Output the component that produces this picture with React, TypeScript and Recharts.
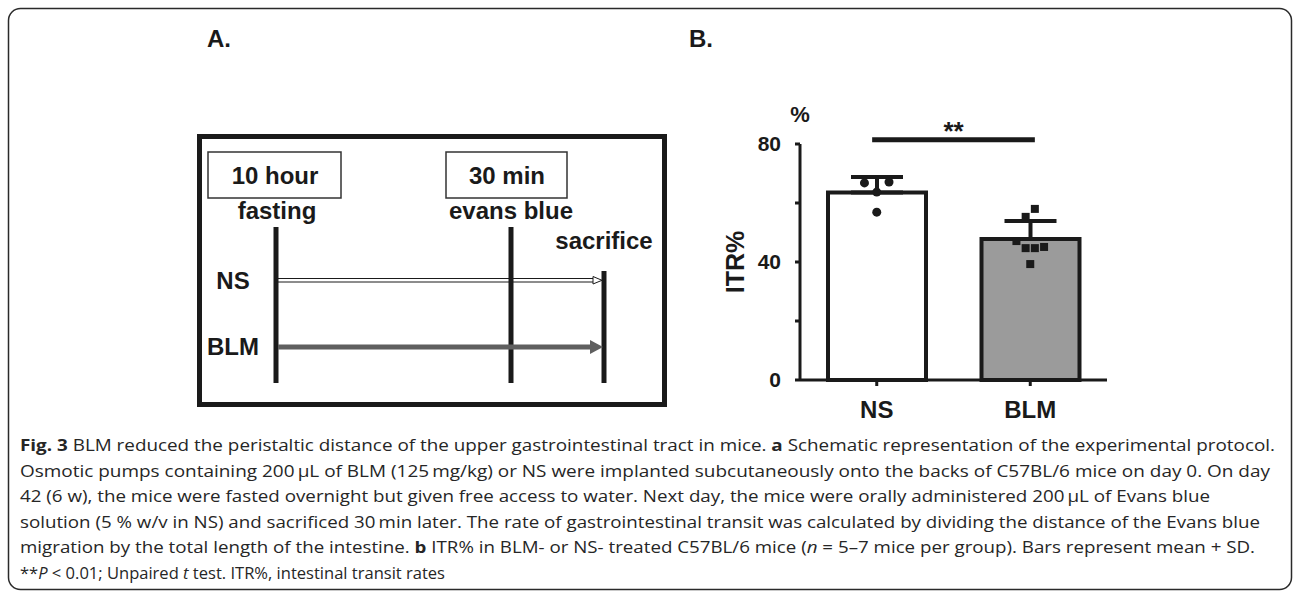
import React from 'react';
import { ComposedChart, Bar, Cell, ErrorBar, Scatter, XAxis, YAxis, ReferenceLine, Label } from 'recharts';

// panel B values
const GROUPS = ['NS', 'BLM'];
const MEANS = [63.6, 47.8];
const SDS = [5.2, 6.1];
const BAR_FILLS = ['#ffffff', '#9b9b9b'];
const NS_POINTS = [66.8, 67.1, 63.7, 56.9];
const NS_JITTER = [-0.08, 0.08, 0, 0];
const BLM_POINTS = [58.0, 55.3, 47.1, 44.7, 44.7, 45.1, 39.3];
const BLM_JITTER = [0.03, -0.03, -0.09, -0.03, 0.03, 0.09, 0];
const Y_TICKS = [0, 20, 40, 60, 80];
const Y_LABELS = [0, 40, 80];
const SIG_Y = 81.4;
const SIG_SPAN = [0.47, 1.53];

// panel A schematic texts
const STEP_BOXES = ['10 hour', '30 min'];
const STEP_NAMES = ['fasting', 'evans blue', 'sacrifice'];
const ROWS = ['NS', 'BLM'];

// caption lines, [text, style] pieces
const CAPTION: [string, string][][] = [
  [['Fig. 3', 'b'], [' BLM reduced the peristaltic distance of the upper gastrointestinal tract in mice. ', ''], ['a', 'b'], [' Schematic representation of the experimental protocol.', '']],
  [['Osmotic pumps containing 200\u2009\u00b5L of BLM (125\u2009mg/kg) or NS were implanted subcutaneously onto the backs of C57BL/6 mice on day 0. On day', '']],
  [['42 (6 w), the mice were fasted overnight but given free access to water. Next day, the mice were orally administered 200\u2009\u00b5L of Evans blue', '']],
  [['solution (5 % w/v in NS) and sacrificed 30\u2009min later. The rate of gastrointestinal transit was calculated by dividing the distance of the Evans blue', '']],
  [['migration by the total length of the intestine. ', ''], ['b', 'b'], [' ITR% in BLM- or NS- treated C57BL/6 mice (', ''], ['n', 'i'], [' = 5\u20137 mice per group). Bars represent mean + SD.', '']],
  [['**', ''], ['P', 'i'], [' < 0.01; Unpaired ', ''], ['t', 'i'], [' test. ITR%, intestinal transit rates', '']],
];
const CAPTION_WIDTHS = [1255, 1250, 1190, 1240, 1235, 425];

const INK = '#1a1a1a';
const FONT = '"Liberation Sans", Arial, sans-serif';

const barData = GROUPS.map((name, i) => ({ name, mean: MEANS[i], err: [0, SDS[i]] }));
const nsDots = NS_POINTS.map((y, i) => ({ x: 0.5 + NS_JITTER[i], y }));
const blmDots = BLM_POINTS.map((y, i) => ({ x: 1.5 + BLM_JITTER[i], y }));

const Dot = (p: any) => <circle cx={p.cx} cy={p.cy} r={4.5} fill={INK} />;
const Sq = (p: any) => <rect x={p.cx - 4} y={p.cy - 4} width={8} height={8} fill={INK} />;

function Schematic() {
  const b = { fontFamily: FONT, fontWeight: 700, fontSize: 24, fill: INK } as const;
  return (
    <g>
      <rect x={199.5} y={136.5} width={465} height={268} fill="none" stroke={INK} strokeWidth={5} />
      <rect x={208} y={152} width={133} height={46} fill="none" stroke="#333" strokeWidth={1.5} />
      <rect x={446} y={152} width={121} height={46} fill="none" stroke="#333" strokeWidth={1.5} />
      <text x={275} y={184} textAnchor="middle" {...b}>{STEP_BOXES[0]}</text>
      <text x={507} y={184} textAnchor="middle" {...b}>{STEP_BOXES[1]}</text>
      <text x={277} y={219} textAnchor="middle" {...b}>{STEP_NAMES[0]}</text>
      <text x={511} y={219} textAnchor="middle" {...b}>{STEP_NAMES[1]}</text>
      <text x={604} y={249} textAnchor="middle" {...b}>{STEP_NAMES[2]}</text>
      <text x={233} y={289} textAnchor="middle" {...b}>{ROWS[0]}</text>
      <text x={233} y={355} textAnchor="middle" {...b}>{ROWS[1]}</text>
      <line x1={276} y1={227} x2={276} y2={383} stroke={INK} strokeWidth={5} />
      <line x1={511} y1={227} x2={511} y2={383} stroke={INK} strokeWidth={5} />
      <line x1={604} y1={271} x2={604} y2={383} stroke={INK} strokeWidth={5} />
      {/* NS: hollow arrow */}
      <line x1={278} y1={278.5} x2={594} y2={278.5} stroke={INK} strokeWidth={1} />
      <line x1={278} y1={282} x2={594} y2={282} stroke={INK} strokeWidth={1} />
      <polygon points="593,276.5 602,280.3 593,284" fill="#fff" stroke={INK} strokeWidth={1} />
      {/* BLM: grey arrow */}
      <line x1={278} y1={347} x2={592} y2={347} stroke="#5f5f5f" strokeWidth={5} />
      <polygon points="590,340 603,347 590,354" fill="#5f5f5f" />
    </g>
  );
}

export default function App() {
  return (
    <div style={{ position: 'relative', width: 1295, height: 596, background: '#fff' }}>
      <style>{'body{margin:0}'}</style>
      <svg width={1295} height={596} style={{ position: 'absolute', left: 0, top: 0 }}>
        <rect x={8.5} y={8.5} width={1283} height={581} rx={12} fill="none" stroke="#2a2a2a" strokeWidth={1.5} />
        <text x={207} y={47} fontFamily={FONT} fontWeight={700} fontSize={24} fill={INK}>A.</text>
        <text x={689} y={47} fontFamily={FONT} fontWeight={700} fontSize={24} fill={INK}>B.</text>
        <Schematic />
        {CAPTION.map((line, i) => (
          <text key={i} x={20} y={451 + i * 25.5} fontFamily='"Open Sans", sans-serif' fontSize={16.5} fill="#262626"
            textLength={CAPTION_WIDTHS[i]} lengthAdjust="spacingAndGlyphs">
            {line.map(([t, s], j) => (
              <tspan key={j} fontWeight={s === 'b' ? 700 : 400} fontStyle={s === 'i' ? 'italic' : 'normal'}>{t}</tspan>
            ))}
          </text>
        ))}
      </svg>
      <div style={{ position: 'absolute', left: 700, top: 90 }}>
        <ComposedChart width={430} height={340} data={barData} margin={{ top: 54, right: 23, left: 40, bottom: 0 }}>
          <XAxis dataKey="name" height={50} tickSize={6} tickMargin={15}
            axisLine={{ stroke: INK, strokeWidth: 3 }} tickLine={{ stroke: INK, strokeWidth: 3 }}
            tick={{ fill: INK, fontSize: 24, fontWeight: 700, fontFamily: FONT }} />
          <XAxis xAxisId="pts" dataKey="x" type="number" domain={[0, 2]} allowDataOverflow hide />
          <YAxis domain={[0, 80]} ticks={Y_TICKS} interval={0} width={60} tickSize={5} tickMargin={14}
            tickFormatter={(v: number) => (Y_LABELS.includes(v) ? String(v) : '')}
            axisLine={{ stroke: INK, strokeWidth: 3 }} tickLine={{ stroke: INK, strokeWidth: 3 }}
            tick={{ fill: INK, fontSize: 21, fontWeight: 700, fontFamily: FONT }}>
            <Label value="ITR%" angle={-90} position="insideLeft" offset={-5}
              style={{ textAnchor: 'middle', fontSize: 25, fontWeight: 700, fill: INK, fontFamily: FONT }} />
            <Label value="%" position="top" dx={30} offset={22}
              style={{ fontSize: 22, fontWeight: 700, fill: INK, fontFamily: FONT }} />
          </YAxis>
          <YAxis yAxisId="pts" dataKey="y" domain={[0, 80]} allowDataOverflow hide />
          <Bar dataKey="mean" barSize={98} stroke={INK} strokeWidth={4} isAnimationActive={false}>
            {barData.map((_, i) => <Cell key={i} fill={BAR_FILLS[i]} />)}
            <ErrorBar dataKey="err" direction="y" width={26} stroke={INK} strokeWidth={4} />
          </Bar>
          <Scatter data={nsDots} xAxisId="pts" yAxisId="pts" shape={Dot} isAnimationActive={false} />
          <Scatter data={blmDots} xAxisId="pts" yAxisId="pts" shape={Sq} isAnimationActive={false} />
          <ReferenceLine xAxisId="pts" yAxisId="pts" ifOverflow="visible" stroke={INK} strokeWidth={5}
            segment={[{ x: SIG_SPAN[0], y: SIG_Y }, { x: SIG_SPAN[1], y: SIG_Y }]}
            label={{ value: '**', position: 'center', dy: -9, fontSize: 26, fontWeight: 700, fill: INK, fontFamily: FONT }} />
        </ComposedChart>
      </div>
    </div>
  );
}
